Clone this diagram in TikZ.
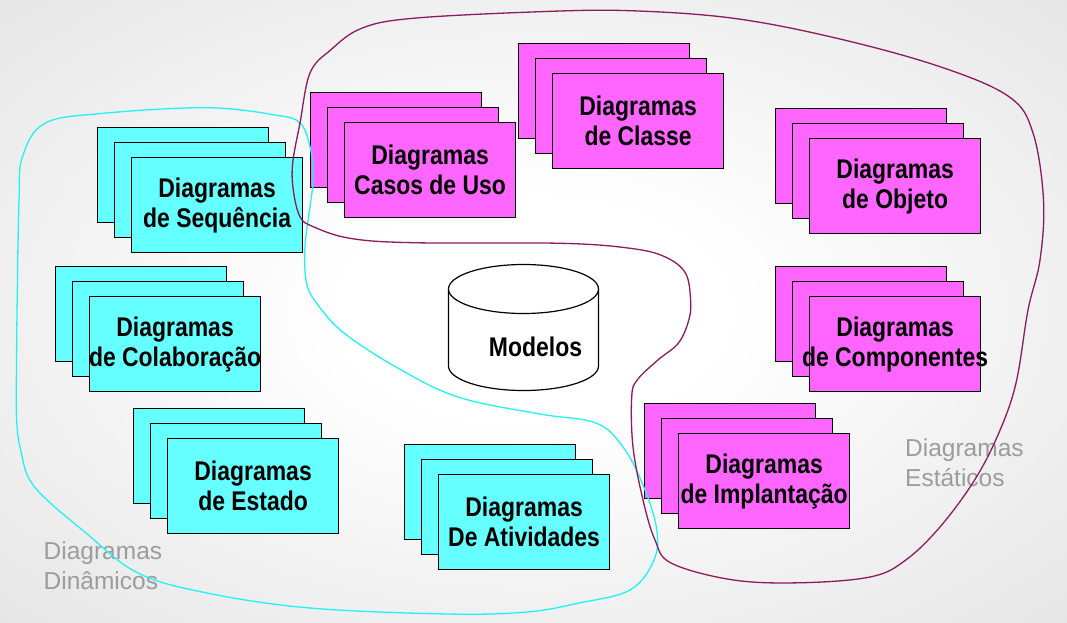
\documentclass[tikz,border=0pt]{standalone}
\usepackage{fontspec}
\setmainfont{Liberation Sans}
\newfontfamily\fontecaixa[FakeStretch=0.85]{Liberation Sans}

\definecolor{ciano}{HTML}{66FFFF}
\definecolor{rosa}{HTML}{FF66FF}
\definecolor{linhaciano}{HTML}{22F2F2}
\definecolor{linharoxa}{HTML}{8C1A5E}
\definecolor{cinzatexto}{HTML}{9C9C9C}

\pgfdeclareradialshading{fundo}{\pgfpoint{0bp}{0bp}}{%
  color(0bp)=(white); color(9bp)=(white); color(25bp)=(black!6);
  color(36bp)=(black!10); color(50bp)=(black!10)}

\tikzset{
  caixa/.style={draw=black, line width=1.2pt, anchor=north west,
    minimum width=171pt, minimum height=95pt, inner sep=0pt},
  rotulo/.style={align=center, inner sep=0pt,
    font=\fontecaixa\bfseries\fontsize{27}{30}\selectfont},
  legenda/.style={align=left, anchor=north west, inner sep=0pt,
    text=cinzatexto, font=\fontsize{24.5}{30}\selectfont},
  contorno/.style={line width=1.3pt}
}

\begin{document}
\begin{tikzpicture}[x=1pt, y=-1pt]
        % 1. FUNDO E LIMITES
        \shade[shading=fundo] (0,0) rectangle (1067,622);
        \useasboundingbox (0,0) rectangle (1067,622);

        % pilha de tres folhas: nome, x, y (canto da folha da frente), cor, texto
        \def\pilha#1#2#3#4#5{%
          \node[caixa, fill=#4] (#1c) at (#2-34, #3-30) {};
          \node[caixa, fill=#4] (#1b) at (#2-17, #3-15) {};
          \node[caixa, fill=#4] (#1) at (#2, #3) {};
          \node[rotulo] (#1t) at (#1.center) {#5};
        }

        % ==========================================
        % 2. MODELOS (cilindro no centro)
        % ==========================================
        \draw[line width=1.2pt, fill=white] (448.5,289) -- (448.5,366)
          arc[start angle=180, end angle=0, x radius=75, y radius=24.5] -- (598.5,289);
        \draw[line width=1.2pt, fill=white] (523.5,289) ellipse[x radius=75, y radius=24.5];
        \node[rotulo] (modelos) at (535.5,347) {Modelos};

        % ==========================================
        % 3. DIAGRAMAS DINAMICOS (ciano)
        % ==========================================
        \pilha{seq}{131}{157}{ciano}{Diagramas\\de Sequência}
        \pilha{colab}{89}{296}{ciano}{Diagramas\\de Colaboração}
        \pilha{estado}{167}{438}{ciano}{Diagramas\\de Estado}
        \pilha{ativ}{438}{474}{ciano}{Diagramas\\De Atividades}

        % ==========================================
        % 4. DIAGRAMAS ESTATICOS (rosa)
        % ==========================================
        \pilha{casos}{344}{122}{rosa}{Diagramas\\Casos de Uso}
        \pilha{classe}{552}{73}{rosa}{Diagramas\\de Classe}
        \pilha{objeto}{809}{138}{rosa}{Diagramas\\de Objeto}
        \pilha{comp}{809}{296}{rosa}{Diagramas\\de Componentes}
        \pilha{impl}{678}{433}{rosa}{Diagramas\\de Implantação}

        % Legendas em cinza
        \node[legenda] (dinamicos) at (43.5,542) {Diagramas\\Dinâmicos};
        \node[legenda] (estaticos) at (905,438.5) {Diagramas\\Estáticos};

        % ==========================================
        % 5. CONTORNOS DOS GRUPOS
        % ==========================================
        % grupo dinamico
        \draw[contorno, linhaciano] plot[smooth cycle, tension=0.6] coordinates {
          (44.8,123.3) (103.3,113.3) (206.6,107.7) (275.5,115) (300,123)
          (310,146.7) (313.3,176.7) (310,206.7) (305,246.7) (306.5,283)
          (318,305) (344,333) (396,367) (458,397) (540,414) (596,423)
          (623,447) (643,485) (656.5,528) (654,560) (630,590) (579,603)
          (527,612) (448,614) (310,608) (207,593) (138,573) (86,533)
          (34.4,486.7) (20.7,450) (16.5,417) (16.5,367) (17.2,300)
          (19,200) (22.4,157)};
        % grupo estatico
        \draw[contorno, linharoxa] plot[smooth cycle, tension=0.6] coordinates {
          (292.7,163) (300,123) (310,73) (330.6,50) (361.6,28.3) (413,18.3)
          (540,11.7) (630,10.7) (733.6,18.3) (837,38.3) (940,66.7)
          (1009,96.7) (1033,133) (1043.5,200) (1040,260) (1028,310)
          (1016,383) (998.8,433) (974.6,480) (940.2,526.7) (905.8,560)
          (871.4,576.7) (802.5,582.7) (733.6,580) (671.6,563.3) (655,540)
          (643,500) (633,447) (631.7,397) (637.2,380) (657.9,360)
          (678.5,343) (688.8,320) (690.6,300) (685.4,273) (664.7,256.7)
          (630.3,248.3) (561.4,243.3) (413.2,242.7) (350,238.3) (313.3,226.7)
          (300,216.7) (293.3,190)};
    \end{tikzpicture}
\end{document}
